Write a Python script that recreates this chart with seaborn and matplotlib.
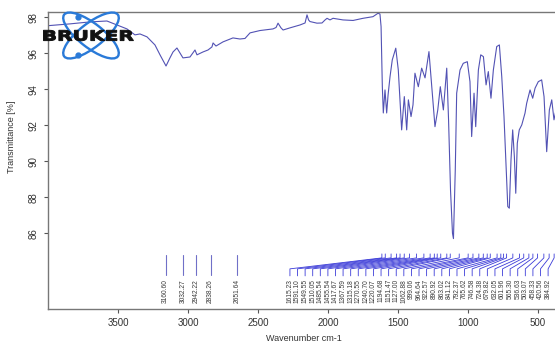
import numpy as np
import pandas as pd
import matplotlib
matplotlib.use('Agg')
import matplotlib.pyplot as plt
from matplotlib.patches import Ellipse, PathPatch
from matplotlib.textpath import TextPath
from matplotlib.font_manager import FontProperties
from matplotlib.transforms import Affine2D
import seaborn as sns

# spectrum (cm-1, %T)
wavenumber = [4000, 3843, 3700, 3579, 3507, 3436, 3379, 3343, 3293, 3236, 3200, 3157,
              3129, 3107, 3079, 3036, 2986, 2950, 2936, 2893, 2857, 2829, 2821, 2800,
              2750, 2679, 2629, 2593, 2557, 2486, 2393, 2371, 2357, 2336, 2321, 2271,
              2200, 2164, 2150, 2139, 2129, 2079, 2043, 2021, 2007, 1986, 1964, 1893,
              1821, 1750, 1679, 1643, 1629, 1621, 1612, 1605, 1593, 1581, 1571, 1557,
              1541, 1516, 1498, 1486, 1474, 1455, 1438, 1426, 1407, 1393, 1379, 1355,
              1331, 1307, 1279, 1255, 1236, 1216, 1198, 1176, 1152, 1139, 1125, 1111,
              1104, 1091, 1081, 1057, 1034, 1005, 986, 974, 957, 945, 926, 909, 890,
              871, 855, 836, 819, 795, 776, 759, 743, 729, 716, 705, 693, 681, 669,
              659, 648, 634, 616, 593, 581, 557, 538, 521, 498, 474, 457, 438, 419,
              402, 386, 370]
transmittance = [97.53, 97.63, 97.74, 97.79, 97.57, 97.35, 97.02, 97.07, 96.91, 96.46, 95.91, 95.29,
                 95.74, 96.07, 96.29, 95.74, 95.79, 96.18, 95.91, 96.07, 96.18, 96.35, 96.57, 96.40,
                 96.63, 96.85, 96.79, 96.82, 97.13, 97.26, 97.35, 97.43, 97.67, 97.41, 97.29, 97.41,
                 97.57, 97.68, 98.13, 97.85, 97.76, 97.67, 97.68, 97.85, 97.94, 97.85, 97.94, 97.85,
                 97.82, 97.94, 98.03, 98.22, 98.18, 97.48, 94.14, 92.68, 93.96, 92.68, 93.68, 94.70,
                 95.63, 96.28, 95.07, 93.41, 91.74, 93.59, 91.74, 93.41, 92.48, 93.13, 94.89, 94.14,
                 95.17, 94.63, 96.09, 93.78, 91.92, 92.85, 94.14, 92.85, 95.17, 92.30, 88.40, 86.00,
                 85.70, 89.52, 93.78, 95.07, 95.44, 95.53, 94.42, 91.37, 93.78, 91.92, 95.07, 95.91, 95.81,
                 94.24, 94.98, 93.50, 95.07, 96.37, 96.46, 94.70, 92.48, 89.89, 87.48, 87.39, 90.07, 91.74, 90.26,
                 88.22, 91.00, 91.74, 92.02, 92.67, 93.22, 93.96, 93.50, 94.06, 94.42, 94.52, 93.59, 90.53, 92.85,
                 93.41, 92.30, 92.90]

single_peaks = [3160.60, 3032.27, 2942.22, 2838.26, 2651.64]
fan_peaks = [1615.23, 1591.10, 1549.55, 1510.05, 1485.54, 1455.54, 1417.67, 1367.59,
             1315.18, 1270.55, 1240.70, 1220.07, 1194.68, 1151.47, 1127.00, 1062.88,
             999.06, 964.64, 922.57, 890.92, 863.02, 841.12, 792.37, 765.62, 746.58,
             724.38, 679.82, 632.05, 601.96, 565.30, 536.63, 503.07, 458.33, 420.56, 384.92]

yticks = [86, 88, 90, 92, 94, 96, 98]
xticks = [500, 1000, 1500, 2000, 2500, 3000, 3500]

sns.set_style('white')
plt.rcParams['font.family'] = ['Liberation Sans', 'DejaVu Sans']

W, H = 555, 342
fig = plt.figure(figsize=(W / 100, H / 100), dpi=100)
ax = fig.add_axes([48 / W, 1 - 309 / H, (560 - 48) / W, (309 - 12) / H])

df = pd.DataFrame({'wn': wavenumber, 'T': transmittance})
sns.lineplot(data=df, x='wn', y='T', sort=False, ax=ax, color='#5252b4', linewidth=0.8)

ax.set_xlim(4000, 343)
ax.set_ylim(81.79, 98.29)

line_c = '#7070c8'
lab_c = '#3a3a3a'
for p in single_peaks:
    ax.plot([p, p], [84.8, 83.68], color=line_c, lw=0.8)
    ax.text(p, 83.45, f'{p:.2f}', rotation=90, ha='center', va='top', fontsize=4.8, color=lab_c)

label_x = np.linspace(2272, 428, len(fan_peaks))
for p, lx in zip(fan_peaks, label_x):
    ax.plot([p, p, lx, lx], [84.85, 84.63, 84.02, 83.63], color='#3b3bd8', lw=0.6)
    ax.text(lx, 83.45, f'{p:.2f}', rotation=90, ha='center', va='top', fontsize=4.8, color=lab_c)

ax.set_xticks(xticks)
ax.set_yticks(yticks)
ax.set_yticklabels([str(v) for v in yticks], rotation=90, va='center')
ax.tick_params(axis='both', direction='out', length=3, width=0.8, colors='#555555',
               labelsize=7, labelcolor='#333333', left=True, bottom=True)
for s in ['left', 'bottom', 'top']:
    ax.spines[s].set_color('#777777')
    ax.spines[s].set_linewidth(1.0)
ax.spines['right'].set_visible(False)

ax.set_xlabel('Wavenumber cm-1', fontsize=6.5, color='#333333')
ax.set_ylabel('Transmittance [%]', fontsize=6.5, color='#333333')
ax.yaxis.set_label_coords(-0.062, 0.58)
ax.xaxis.set_label_coords(0.5, -0.085)

# logo overlay in pixel coordinates
ov = fig.add_axes([0, 0, 1, 1], zorder=5)
ov.set_xlim(0, W)
ov.set_ylim(H, 0)
ov.axis('off')
ov.patch.set_alpha(0)
for ang in (38, -38):
    ov.add_patch(Ellipse((91, 35.5), 68, 24, angle=ang, fill=False, ec='#2a7ad8', lw=1.7))
ov.plot([78, 78], [17, 54.5], 'o', color='#2a7ad8', ms=3.5)

tp = TextPath((0, 0), 'BRUKER', size=10, prop=FontProperties(family='DejaVu Sans', weight='bold'))
ext = tp.get_extents()
sx = 90 / ext.width
sy = 10.5 / ext.height
tr = Affine2D().translate(-ext.x0, -ext.y0).scale(sx, -sy).translate(43.5, 40.8)
ov.add_patch(PathPatch(tr.transform_path(tp), fc='#111111', ec='#111111', lw=0.7, zorder=6))

fig.savefig('out.png', dpi=100)
